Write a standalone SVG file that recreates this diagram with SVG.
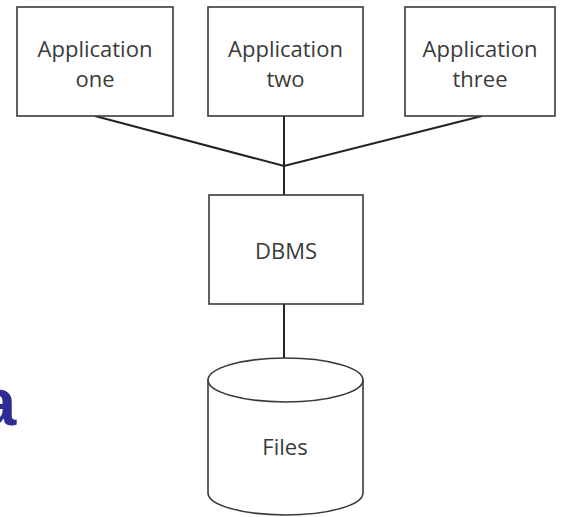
<svg xmlns="http://www.w3.org/2000/svg" width="562" height="517" viewBox="0 0 562 517">
  <style>
    .box { fill: #ffffff; stroke: #3a3a3a; stroke-width: 1.6; }
    .wire { fill: none; stroke: #222222; stroke-width: 2; }
    .label { font-family: "Open Sans", "Liberation Sans", sans-serif; font-size: 22px; fill: #3a3a3a; text-anchor: middle; }
    .mark { font-family: "Liberation Sans", Arial, sans-serif; font-weight: bold; font-size: 67px; fill: #2e2e92; }
  </style>
  <rect x="0" y="0" width="562" height="517" fill="#ffffff"/>

  <!-- connectors -->
  <g id="connectors">
    <polyline class="wire" points="95,116 284,166 482,116"/>
    <line class="wire" x1="284" y1="116" x2="284" y2="195"/>
    <line class="wire" x1="284" y1="304" x2="284" y2="358"/>
  </g>

  <!-- application layer -->
  <g id="app-one">
    <rect class="box" x="17" y="7" width="156" height="109"/>
    <text class="label" x="95" y="57">Application</text>
    <text class="label" x="95" y="87">one</text>
  </g>
  <g id="app-two">
    <rect class="box" x="208" y="7" width="155" height="109"/>
    <text class="label" x="285.5" y="57">Application</text>
    <text class="label" x="285.5" y="87">two</text>
  </g>
  <g id="app-three">
    <rect class="box" x="405" y="7" width="150" height="109"/>
    <text class="label" x="480" y="57">Application</text>
    <text class="label" x="480" y="87">three</text>
  </g>

  <!-- database management system -->
  <g id="dbms">
    <rect class="box" x="209" y="195" width="154" height="109"/>
    <text class="label" x="286" y="259">DBMS</text>
  </g>

  <!-- file storage cylinder -->
  <g id="files">
    <path class="box" d="M208,380 L208,493 A77.5,22 0 0 0 363,493 L363,380"/>
    <ellipse class="box" cx="285.5" cy="380" rx="77.5" ry="22"/>
    <text class="label" x="285" y="455">Files</text>
  </g>

  <!-- stray heading letter at the left edge -->
  <text class="mark" x="-21" y="425">a</text>
</svg>
